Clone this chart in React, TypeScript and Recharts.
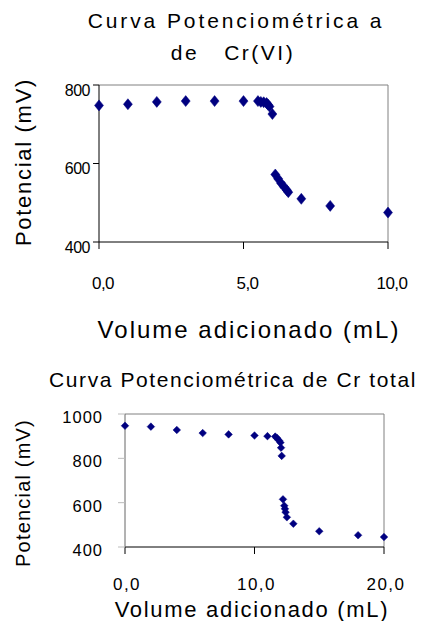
import React from "react";
import { ScatterChart, Scatter, XAxis, YAxis, ReferenceLine } from "recharts";

// Chart 1: Cr(VI)
const cr6Volume = [0, 1, 2, 3, 4, 5, 5.5, 5.6, 5.7, 5.8, 5.85, 5.9, 6.0, 6.1, 6.2, 6.3, 6.4, 6.5, 6.55, 7, 8, 10];
const cr6Potential = [748, 751, 757, 759, 759, 759, 759, 757, 756, 754, 750, 745, 726, 572, 561, 550, 541, 532, 527, 510, 492, 475];
const cr6XTicks = [0, 5, 10];
const cr6YTicks = [400, 600, 800];

// Chart 2: Cr total
const totVolume = [0, 2, 4, 6, 8, 10, 11, 11.6, 11.75, 11.9, 12.0, 12.05, 12.1, 12.2, 12.3, 12.35, 12.4, 12.5, 13, 15, 18, 20];
const totPotential = [947, 943, 928, 914, 908, 903, 900, 898, 891, 880, 871, 848, 811, 615, 586, 572, 557, 534, 505, 471, 453, 445];
const totXTicks = [0, 10, 20];
const totYTicks = [400, 600, 800, 1000];

const title1a = "Curva Potenciométrica a";
const title1b = "de   Cr(VI)";
const title2 = "Curva Potenciométrica de Cr total";
const xLabel = "Volume adicionado (mL)";
const yLabel = "Potencial (mV)";

const FONT = "'Liberation Sans', Arial, sans-serif";
const NAVY = "#000080";

const fmtX = (v: number) => v.toFixed(1).replace(".", ",");
const fmtY = (v: number) => String(v);

const makeTick =
  (o: { dx: number; dy: number; anchor: string; size: number; ls: number; fmt: (v: number) => string }) =>
  (props: any) => {
    const { x, y, payload } = props;
    return (
      <text
        x={x + o.dx}
        y={y + o.dy}
        textAnchor={o.anchor}
        fontSize={o.size}
        letterSpacing={o.ls}
        fill="#000"
        fontFamily={FONT}
      >
        {o.fmt(payload.value)}
      </text>
    );
  };

const makeDiamond = (hw: number, hh: number) => (props: any) => {
  const { cx, cy } = props;
  if (cx == null || cy == null) return <g />;
  return (
    <polygon
      points={`${cx},${cy - hh} ${cx + hw},${cy} ${cx},${cy + hh} ${cx - hw},${cy}`}
      fill={NAVY}
      stroke={NAVY}
      strokeWidth={0.5}
    />
  );
};

const data1 = cr6Volume.map((v, i) => ({ x: v, y: cr6Potential[i] }));
const data2 = totVolume.map((v, i) => ({ x: v, y: totPotential[i] }));

export default function App() {
  return (
    <div style={{ position: "absolute", left: 0, top: 0, width: 423, height: 621, background: "#fff", fontFamily: FONT }}>
      <div style={{ position: "absolute", left: 0, top: 0 }}>
        <ScatterChart width={423} height={360} margin={{ top: 85, right: 35, bottom: 0, left: 0 }}>
          <XAxis
            type="number"
            dataKey="x"
            domain={[0, 10]}
            ticks={cr6XTicks}
            height={118}
            tickSize={7}
            axisLine={{ stroke: "#000", strokeWidth: 1 }}
            tickLine={{ stroke: "#000" }}
            tick={makeTick({ dx: 4, dy: 38, anchor: "middle", size: 17, ls: -0.5, fmt: fmtX })}
            interval={0}
          />
          <YAxis
            type="number"
            dataKey="y"
            domain={[400, 800]}
            ticks={cr6YTicks}
            width={99}
            tickSize={6}
            axisLine={{ stroke: "#000", strokeWidth: 1 }}
            tickLine={{ stroke: "#000" }}
            tick={makeTick({ dx: -1, dy: 10.5, anchor: "end", size: 16, ls: -0.5, fmt: fmtY })}
            interval={0}
          />
          <ReferenceLine y={800} stroke="#808080" strokeWidth={1} ifOverflow="extendDomain" />
          <ReferenceLine x={10} stroke="#808080" strokeWidth={1} ifOverflow="extendDomain" />
          <Scatter data={data1} isAnimationActive={false} shape={makeDiamond(4.5, 5.5)} />
        </ScatterChart>
      </div>
      <div style={{ position: "absolute", left: 0, top: 360 }}>
        <ScatterChart width={423} height={261} margin={{ top: 54, right: 39, bottom: 0, left: 0 }}>
          <XAxis
            type="number"
            dataKey="x"
            domain={[0, 20]}
            ticks={totXTicks}
            height={74}
            tickSize={7}
            axisLine={{ stroke: "#000", strokeWidth: 1 }}
            tickLine={{ stroke: "#000" }}
            tick={makeTick({ dx: 2, dy: 34, anchor: "middle", size: 17, ls: 1.5, fmt: fmtX })}
            interval={0}
          />
          <YAxis
            type="number"
            dataKey="y"
            domain={[400, 1000]}
            ticks={totYTicks}
            width={125}
            tickSize={7}
            axisLine={{ stroke: "#666", strokeWidth: 1 }}
            tickLine={{ stroke: "#bbb" }}
            tick={makeTick({ dx: -13, dy: 9, anchor: "end", size: 16.5, ls: 1, fmt: fmtY })}
            interval={0}
          />
          <ReferenceLine y={1000} stroke="#808080" strokeWidth={1} ifOverflow="extendDomain" />
          <ReferenceLine x={20} stroke="#808080" strokeWidth={1} ifOverflow="extendDomain" />
          <Scatter data={data2} isAnimationActive={false} shape={makeDiamond(3.8, 3.8)} />
        </ScatterChart>
      </div>
      <svg
        width={423}
        height={621}
        style={{ position: "absolute", left: 0, top: 0, pointerEvents: "none" }}
        fontFamily={FONT}
      >
        <text x={236} y={28} textAnchor="middle" fontSize={21} letterSpacing={2.9} fill="#000" style={{ whiteSpace: "pre" }}>
          {title1a}
        </text>
        <text x={233} y={60} textAnchor="middle" fontSize={21} letterSpacing={2.5} fill="#000" style={{ whiteSpace: "pre" }}>
          {title1b}
        </text>
        <text x={249} y={338} textAnchor="middle" fontSize={24} letterSpacing={2} fill="#000">
          {xLabel}
        </text>
        <text
          x={0}
          y={0}
          transform="translate(31,162) rotate(-90)"
          textAnchor="middle"
          fontSize={22}
          letterSpacing={1.7}
          fill="#000"
        >
          {yLabel}
        </text>
        <text x={233} y={387} textAnchor="middle" fontSize={21} letterSpacing={1.6} fill="#000">
          {title2}
        </text>
        <text x={252} y={617} textAnchor="middle" fontSize={22} letterSpacing={1.7} fill="#000">
          {xLabel}
        </text>
        <text
          x={0}
          y={0}
          transform="translate(30,493) rotate(-90)"
          textAnchor="middle"
          fontSize={20}
          letterSpacing={1.2}
          fill="#000"
        >
          {yLabel}
        </text>
      </svg>
    </div>
  );
}
